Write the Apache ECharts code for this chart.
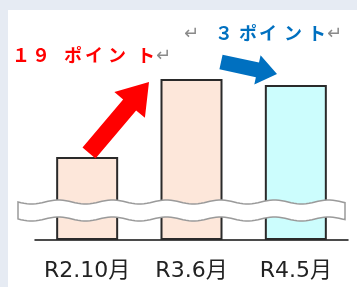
<!DOCTYPE html>
<html>
<head>
<meta charset="utf-8">
<script src="https://cdn.jsdelivr.net/npm/echarts@6/dist/echarts.min.js"></script>
<style>
  html, body { margin: 0; padding: 0; background: #e6ebf3; }
  #main { width: 357px; height: 287px; }
</style>
</head>
<body>
<div id="main"></div>
<script>
// 期間ラベルと棒の高さ（軸は途中で省略されているので見た目の高さ）
var periods = ['R2.10月', 'R3.6月', 'R4.5月'];
var barValues = [41.5, 80.5, 77.5];
var barColors = ['#fde7da', '#fde7da', '#ccfdfd'];
var upLabel = ['１', '９', 'ポ', 'イ', 'ン', 'ト'];
var downLabel = ['３', 'ポ', 'イ', 'ン', 'ト'];

var chart = echarts.init(document.getElementById('main'));

// 矢印の多角形
function arrow(tail, tip, shaftW, headW, headL) {
  var dx = tip[0] - tail[0], dy = tip[1] - tail[1];
  var len = Math.sqrt(dx * dx + dy * dy);
  var ux = dx / len, uy = dy / len, nx = -uy, ny = ux;
  var bx = tip[0] - ux * headL, by = tip[1] - uy * headL;
  return [
    [tail[0] + nx * shaftW / 2, tail[1] + ny * shaftW / 2],
    [bx + nx * shaftW / 2, by + ny * shaftW / 2],
    [bx + nx * headW / 2, by + ny * headW / 2],
    tip,
    [bx - nx * headW / 2, by - ny * headW / 2],
    [bx - nx * shaftW / 2, by - ny * shaftW / 2],
    [tail[0] - nx * shaftW / 2, tail[1] - ny * shaftW / 2]
  ];
}

// 省略線（波形の帯）
function wave() {
  var top = [], bottom = [];
  for (var x = 18; x <= 345; x += 3) {
    var s = 2 * Math.sin((x - 18) / 54 * Math.PI * 2);
    top.push([x, 202 + s]);
    bottom.unshift([x, 219 + s]);
  }
  return top.concat(bottom);
}

function spaced(chars, xs, y, color) {
  return chars.map(function (c, i) {
    return {
      type: 'text', left: xs[i], top: y, z: 30,
      style: { text: c, fill: color, font: 'bold 18px "Noto Sans CJK JP"' }
    };
  });
}

function returnMark(x, y) {
  return {
    type: 'text', left: x, top: y, z: 30,
    style: { text: '↵', fill: '#8a8a8a', font: '18px "DejaVu Sans"' }
  };
}

var graphics = [
  { type: 'rect', z: -10, shape: { x: 8, y: 10, width: 349, height: 277 }, style: { fill: '#ffffff' } },
  { type: 'polygon', z: 20, shape: { points: wave() }, style: { fill: '#ffffff', stroke: '#9a9a9a', lineWidth: 1.5 } },
  { type: 'polygon', z: 25, shape: { points: arrow([89, 153], [149, 82], 17, 40, 30) }, style: { fill: '#ff0000' } },
  { type: 'polygon', z: 25, shape: { points: arrow([221, 62], [277, 74], 15, 30, 20) }, style: { fill: '#0070c0' } },
  returnMark(156, 47),
  returnMark(184, 25),
  returnMark(327, 25)
]
  .concat(spaced(upLabel, [12, 32, 64, 85, 108, 137], 46, '#ff0000'))
  .concat(spaced(downLabel, [215, 239, 259, 284, 308], 24, '#0070c0'));

var option = {
  animation: false,
  grid: { left: 35, right: 9, top: 40, bottom: 47 },
  xAxis: {
    type: 'category',
    data: periods,
    axisTick: { show: false },
    axisLine: { lineStyle: { color: '#111', width: 1.5 } },
    axisLabel: {
      interval: 0, hideOverlap: false,
      margin: 20, color: '#222', fontSize: 22,
      fontFamily: '"DejaVu Sans", "Noto Sans CJK JP"'
    }
  },
  yAxis: { type: 'value', min: 0, max: 100, show: false, splitLine: { show: false } },
  series: [{
    type: 'bar',
    barWidth: 62,
    data: barValues.map(function (v, i) {
      return { value: v, itemStyle: { color: barColors[i] } };
    }),
    itemStyle: { borderColor: '#2a2a2a', borderWidth: 2 }
  }],
  graphic: graphics
};
chart.setOption(option);
</script>
</body>
</html>
